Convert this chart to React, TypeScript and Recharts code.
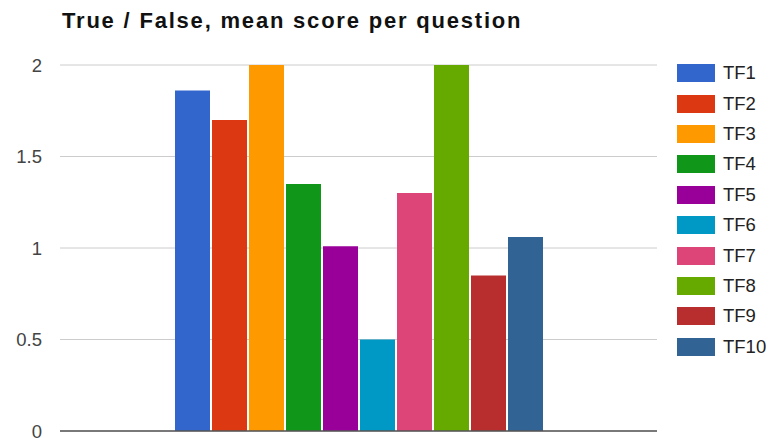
import { Bar, BarChart, CartesianGrid, XAxis, YAxis } from "recharts";

const questions = ["TF1", "TF2", "TF3", "TF4", "TF5", "TF6", "TF7", "TF8", "TF9", "TF10"];
const meanScores = [1.86, 1.7, 2, 1.35, 1.01, 0.5, 1.3, 2, 0.85, 1.06];
const barColors = [
  "#3366cc",
  "#dc3912",
  "#ff9900",
  "#109618",
  "#990099",
  "#0099c6",
  "#dd4477",
  "#66aa00",
  "#b82e2e",
  "#316395",
];
const yTicks = [0, 0.5, 1, 1.5, 2];

const font = "Arial, 'Liberation Sans', sans-serif";

// one category row holding every question's score
const row: Record<string, number | string> = { name: "" };
questions.forEach((q, i) => {
  row[q] = meanScores[i];
});
const data = [row];

function SideLegend() {
  return (
    <div style={{ position: "absolute", left: 677, top: 58, fontFamily: font }}>
      {questions.map((q, i) => (
        <div
          key={q}
          style={{ display: "flex", alignItems: "center", height: 30.4 }}
        >
          <div style={{ width: 38, height: 18, background: barColors[i] }} />
          <span style={{ marginLeft: 8, fontSize: 18.5, color: "#222" }}>{q}</span>
        </div>
      ))}
    </div>
  );
}

export default function App() {
  return (
    <div
      style={{
        position: "absolute",
        left: 0,
        top: 0,
        width: 769,
        height: 438,
        background: "#fff",
      }}
    >
      <div
        style={{
          position: "absolute",
          left: 62,
          top: 10,
          fontFamily: font,
          fontWeight: "bold",
          fontSize: 22,
          letterSpacing: 1.8,
          lineHeight: "21px",
          color: "#111",
          whiteSpace: "nowrap",
        }}
      >
        True / False, mean score per question
      </div>
      <BarChart
        width={769}
        height={438}
        data={data}
        margin={{ top: 65, right: 112, bottom: 6, left: 0 }}
        barSize={35}
        barGap={2}
      >
        <CartesianGrid horizontal vertical={false} stroke="#cccccc" />
        <XAxis
          dataKey="name"
          tick={false}
          tickLine={false}
          height={1}
          axisLine={{ stroke: "#555", strokeWidth: 1.5 }}
        />
        <YAxis
          domain={[0, 2]}
          ticks={yTicks}
          interval={0}
          width={60}
          axisLine={false}
          tickLine={false}
          tickMargin={12}
          tick={{ fill: "#444", fontSize: 18.5, fontFamily: font }}
        />
        {questions.map((q, i) => (
          <Bar key={q} dataKey={q} fill={barColors[i]} isAnimationActive={false} />
        ))}
      </BarChart>
      <SideLegend />
    </div>
  );
}
